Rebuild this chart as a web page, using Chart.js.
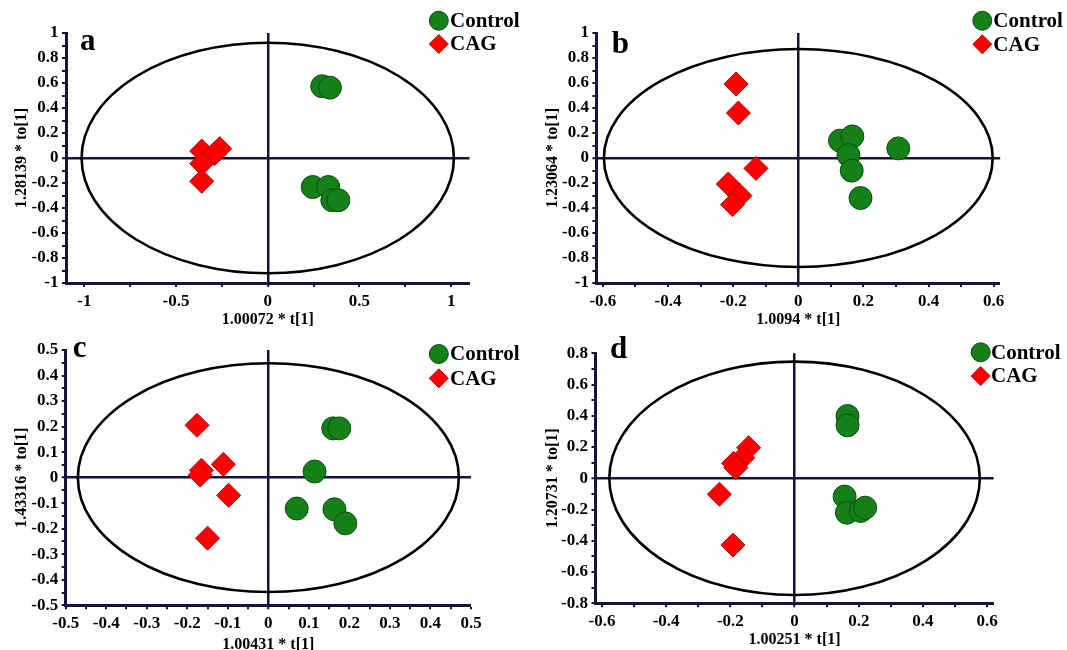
<!DOCTYPE html>
<html>
<head>
<meta charset="utf-8">
<script src="https://cdn.jsdelivr.net/npm/chart.js@4.4.0/dist/chart.umd.min.js"></script>
<style>
  body { margin: 0; width: 1067px; height: 650px; overflow: hidden; background: #fff; position: relative; }
  canvas { position: absolute; }
</style>
</head>
<body>
<canvas id="chartA" width="533" height="340" style="left:0;top:0"></canvas>
<canvas id="chartB" width="534" height="340" style="left:533px;top:0"></canvas>
<canvas id="chartC" width="533" height="340" style="left:0;top:330px"></canvas>
<canvas id="chartD" width="534" height="340" style="left:533px;top:330px"></canvas>
<script>
// panel a
const aControlX = [0.297, 0.339, 0.245, 0.33, 0.352, 0.385];
const aControlY = [0.574, 0.563, -0.232, -0.232, -0.338, -0.338];
const aCagX = [-0.36, -0.262, -0.29, -0.36, -0.36];
const aCagY = [0.056, 0.075, 0.035, -0.045, -0.186];

// panel b
const bControlX = [0.128, 0.166, 0.154, 0.164, 0.191, 0.307];
const bControlY = [0.139, 0.173, 0.024, -0.101, -0.32, 0.077];
const bCagX = [-0.191, -0.184, -0.13, -0.215, -0.179, -0.202];
const bCagY = [0.592, 0.36, -0.083, -0.208, -0.301, -0.373];

// panel c
const cControlX = [0.16, 0.175, 0.114, 0.07, 0.163, 0.19];
const cControlY = [0.193, 0.193, 0.024, -0.121, -0.124, -0.179];
const cCagX = [-0.176, -0.165, -0.168, -0.111, -0.098, -0.15];
const cCagY = [0.205, 0.029, 0.01, 0.052, -0.069, -0.237];

// panel d
const dControlX = [0.165, 0.165, 0.156, 0.163, 0.206, 0.22];
const dControlY = [0.399, 0.339, -0.117, -0.22, -0.209, -0.188];
const dCagX = [-0.143, -0.161, -0.19, -0.183, -0.234, -0.192];
const dCagY = [0.196, 0.132, 0.096, 0.068, -0.102, -0.427];

// axis ranges / tick steps, a..d
const xMin = [-1.1, -0.62, -0.5, -0.62];
const xMax = [1.1, 0.62, 0.5, 0.62];
const xStep = [0.25, 0.1, 0.05, 0.1];
const xLabelStep = [0.5, 0.2, 0.1, 0.2];
const yMin = [-1, -1, -0.5, -0.8];
const yMax = [1, 1, 0.5, 0.8];
const yStep = [0.1, 0.1, 0.05, 0.1];
const yLabelStep = [0.2, 0.2, 0.1, 0.2];

// Hotelling ellipse half axes
const ellipseRx = [1.015, 0.597, 0.47, 0.577];
const ellipseRy = [0.922, 0.872, 0.448, 0.747];

const xTitles = ["1.00072 * t[1]", "1.0094 * t[1]", "1.00431 * t[1]", "1.00251 * t[1]"];
const yTitles = ["1.28139 * to[1]", "1.23064 * to[1]", "1.43316 * to[1]", "1.20731 * to[1]"];
const panelLetters = ["a", "b", "c", "d"];
const groupNames = ["Control", "CAG"];

const green = "#15801a";
const greenEdge = "#0a4f0d";
const red = "#ff0000";
const redEdge = "#b50000";
const navy = "#15153a";
const serif = '"Liberation Serif", "Times New Roman", serif';

function isMajor(v, step) {
  const r = v / step;
  return Math.abs(r - Math.round(r)) < 1e-6;
}

function isZero(c) {
  return c.tick && Math.abs(c.tick.value) < 1e-9;
}

function toPoints(xs, ys) {
  return xs.map(function (x, i) { return { x: x, y: ys[i] }; });
}

const decorPlugin = {
  id: "decor",
  beforeDatasetsDraw(chart, args, opts) {
    const xs = chart.scales.x, ys = chart.scales.y;
    const cx = xs.getPixelForValue(0), cy = ys.getPixelForValue(0);
    const rx = Math.abs(xs.getPixelForValue(opts.rx) - cx);
    const ry = Math.abs(ys.getPixelForValue(opts.ry) - cy);
    const ctx = chart.ctx;
    ctx.save();
    ctx.beginPath();
    ctx.ellipse(cx, cy, rx, ry, 0, 0, Math.PI * 2);
    ctx.lineWidth = 2.6;
    ctx.strokeStyle = "#000";
    ctx.stroke();
    ctx.restore();
  },
  afterDraw(chart, args, opts) {
    const ctx = chart.ctx;
    ctx.save();
    ctx.fillStyle = "#000";
    ctx.font = "bold 31px " + serif;
    ctx.textBaseline = "alphabetic";
    ctx.textAlign = "left";
    ctx.fillText(opts.letter, opts.letterX, opts.letterY);

    // legend
    const lx = opts.legendX;
    ctx.beginPath();
    ctx.arc(lx, opts.legendY1, 9.5, 0, Math.PI * 2);
    ctx.fillStyle = green; ctx.fill();
    ctx.lineWidth = 1; ctx.strokeStyle = greenEdge; ctx.stroke();
    ctx.beginPath();
    ctx.moveTo(lx - 9.5, opts.legendY2);
    ctx.lineTo(lx, opts.legendY2 - 9.5);
    ctx.lineTo(lx + 9.5, opts.legendY2);
    ctx.lineTo(lx, opts.legendY2 + 9.5);
    ctx.closePath();
    ctx.fillStyle = red; ctx.fill();
    ctx.strokeStyle = redEdge; ctx.stroke();

    ctx.fillStyle = "#000";
    ctx.font = "bold 21px " + serif;
    ctx.textBaseline = "middle";
    ctx.fillText(chart.data.datasets[0].label, opts.textX, opts.legendY1 + 1);
    ctx.fillText(chart.data.datasets[1].label, opts.textX, opts.legendY2 + 1);
    ctx.restore();
  }
};

function makeAxis(i, isX, size, titlePad) {
  const major = isX ? xLabelStep[i] : yLabelStep[i];
  return {
    type: "linear",
    position: isX ? "bottom" : "left",
    min: isX ? xMin[i] : yMin[i],
    max: isX ? xMax[i] : yMax[i],
    afterFit: function (scale) {
      if (isX) scale.height = size; else scale.width = size;
    },
    border: { display: true, color: navy, width: 3 },
    grid: {
      drawOnChartArea: true,
      drawTicks: true,
      tickLength: 4,
      tickWidth: 2,
      tickColor: navy,
      color: function (c) { return isZero(c) ? navy : "rgba(0,0,0,0)"; },
      lineWidth: function (c) { return isZero(c) ? 2.5 : 0; }
    },
    ticks: {
      stepSize: isX ? xStep[i] : yStep[i],
      autoSkip: false,
      includeBounds: false,
      maxRotation: 0,
      padding: isX ? 4.5 : 3.5,
      color: "#000",
      font: { family: serif, size: 17, weight: "bold" },
      callback: function (v) {
        return isMajor(v, major) ? String(Math.round(v * 100) / 100) : "";
      }
    },
    title: {
      display: true,
      text: isX ? xTitles[i] : yTitles[i],
      color: "#000",
      font: { family: serif, size: 16, weight: "bold" },
      padding: isX ? { top: 0, bottom: titlePad } : { top: titlePad, bottom: 0 }
    }
  };
}

function makePanel(id, i, ctrlX, ctrlY, cagX, cagY, lay) {
  new Chart(document.getElementById(id), {
    type: "scatter",
    data: {
      datasets: [
        {
          label: groupNames[0],
          data: toPoints(ctrlX, ctrlY),
          pointStyle: "circle",
          pointRadius: 11.5,
          backgroundColor: green,
          borderColor: greenEdge,
          borderWidth: 1
        },
        {
          label: groupNames[1],
          data: toPoints(cagX, cagY),
          pointStyle: "rectRot",
          pointRadius: 12,
          backgroundColor: red,
          borderColor: redEdge,
          borderWidth: 1
        }
      ]
    },
    options: {
      responsive: false,
      animation: false,
      devicePixelRatio: 1,
      events: [],
      layout: { padding: { top: lay.top, right: lay.right, left: 0, bottom: 0 } },
      plugins: {
        legend: { display: false },
        tooltip: { enabled: false },
        decor: {
          rx: ellipseRx[i], ry: ellipseRy[i],
          letter: panelLetters[i], letterX: lay.letterX, letterY: lay.letterY,
          legendX: lay.legendX, legendY1: lay.legendY1, legendY2: lay.legendY2, textX: lay.textX
        }
      },
      scales: {
        x: makeAxis(i, true, lay.xHeight, lay.xTitlePad),
        y: makeAxis(i, false, lay.yWidth, lay.yTitlePad)
      }
    },
    plugins: [decorPlugin]
  });
}

makePanel("chartA", 0, aControlX, aControlY, aCagX, aCagY, {
  top: 33, right: 63.5, yWidth: 66, xHeight: 57, xTitlePad: 10.4, yTitlePad: 12.4,
  letterX: 80, letterY: 50, legendX: 438.8, legendY1: 20.7, legendY2: 44, textX: 450
});
makePanel("chartB", 1, bControlX, bControlY, bCagX, bCagY, {
  top: 33, right: 66.8, yWidth: 63.4, xHeight: 57, xTitlePad: 10.4, yTitlePad: 10.7,
  letterX: 78.7, letterY: 53.3, legendX: 449.3, legendY1: 20.7, legendY2: 44.3, textX: 460.3
});
makePanel("chartC", 2, cControlX, cControlY, cCagX, cCagY, {
  top: 20, right: 62, yWidth: 65.7, xHeight: 64.7, xTitlePad: 15.4, yTitlePad: 12.4,
  letterX: 72.7, letterY: 26.7, legendX: 438.8, legendY1: 24, legendY2: 48.3, textX: 450
});
makePanel("chartD", 3, dControlX, dControlY, dCagX, dCagY, {
  top: 23.3, right: 73.4, yWidth: 62.5, xHeight: 66.7, xTitlePad: 20.4, yTitlePad: 10.7,
  letterX: 77, letterY: 28.3, legendX: 447.7, legendY1: 22.3, legendY2: 46, textX: 458
});
</script>
</body>
</html>
